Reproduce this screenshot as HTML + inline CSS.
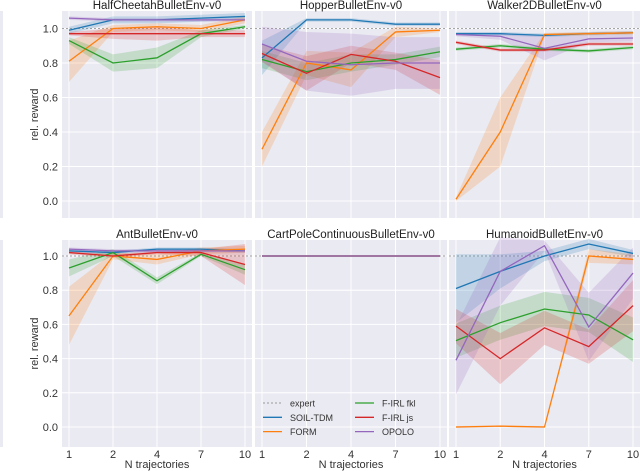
<!DOCTYPE html>
<html><head><meta charset="utf-8"><style>
body{margin:0;background:#fff;}
svg{display:block;font-family:"Liberation Sans",sans-serif;}
</style></head><body>
<svg id="c" width="640" height="471" viewBox="0 0 640 471"></svg>
<script>
const categories=["1","2","4","7","10"];
const yTicks=[0.0,0.2,0.4,0.6,0.8,1.0];
const seriesNames=["SOIL-TDM","FORM","F-IRL fkl","F-IRL js","OPOLO"];
const colors=["#1f77b4","#ff7f0e","#2ca02c","#d62728","#9467bd"];
const envNames=["HalfCheetahBulletEnv-v0","HopperBulletEnv-v0","Walker2DBulletEnv-v0","AntBulletEnv-v0","CartPoleContinuousBulletEnv-v0","HumanoidBulletEnv-v0"];
// mean values per env: [blue, orange, green, red, purple]
const halfCheetahMeans=[[0.99,1.05,1.05,1.06,1.07],[0.81,1.0,1.01,1.0,1.05],[0.93,0.80,0.83,0.97,1.01],[0.97,0.97,0.97,0.97,0.97],[1.06,1.05,1.05,1.05,1.05]];
const halfCheetahErr=[[0.02,0.02,0.02,0.02,0.02],[0.12,0.02,0.02,0.02,0.02],[0.02,0.05,0.06,0.02,0.01],[0.01,0.03,0.04,0.02,0.02],[0.01,0.01,0.01,0.01,0.01]];
const hopperMeans=[[0.83,1.05,1.05,1.025,1.025],[0.30,0.80,0.76,0.98,0.99],[0.82,0.75,0.80,0.82,0.865],[0.855,0.74,0.85,0.81,0.715],[0.91,0.81,0.79,0.80,0.80]];
const hopperErr=[[0.1,0.01,0.01,0.01,0.01],[0.1,0.07,0.1,0.03,0.01],[0.05,0.05,0.05,0.03,0.03],[0.05,0.1,0.05,0.05,0.1],[0.1,0.17,0.18,0.15,0.15]];
const walkerMeans=[[0.97,0.97,0.96,0.97,0.975],[0.01,0.40,0.965,0.97,0.975],[0.88,0.90,0.88,0.87,0.89],[0.92,0.875,0.875,0.91,0.91],[0.965,0.955,0.885,0.94,0.945]];
const walkerErr=[[0.01,0.01,0.01,0.01,0.01],[0.01,0.2,0.01,0.01,0.01],[0.01,0.01,0.01,0.01,0.01],[0.01,0.01,0.01,0.01,0.01],[0.01,0.02,0.07,0.02,0.02]];
const antMeans=[[1.03,1.02,1.04,1.04,1.03],[0.65,1.0,0.98,1.03,1.04],[0.93,1.02,0.855,1.01,0.92],[1.02,1.0,1.02,1.02,0.95],[1.04,1.03,1.03,1.03,1.03]];
const antErr=[[0.01,0.01,0.01,0.01,0.01],[0.17,0.02,0.03,0.02,0.02],[0.05,0.02,0.02,0.01,0.03],[0.01,0.01,0.01,0.02,0.12],[0.01,0.01,0.01,0.01,0.01]];
const cartMeans=[[1,1,1,1,1],[1,1,1,1,1],[1,1,1,1,1],[1,1,1,1,1],[1,1,1,1,1]];
const cartErr=[[0,0,0,0,0],[0,0,0,0,0],[0,0,0,0,0],[0,0,0,0,0],[0,0,0,0,0]];
const humanoidMeans=[[0.81,0.91,1.0,1.07,1.015],[0.0,0.005,0.0,1.0,0.98],[0.505,0.61,0.69,0.655,0.51],[0.59,0.40,0.58,0.47,0.71],[0.39,0.91,1.06,0.585,0.90]];
const humanoidErr=[[0.2,0.1,0.03,0.03,0.02],[0.005,0.005,0.005,0.04,0.03],[0.1,0.1,0.1,0.1,0.13],[0.1,0.15,0.1,0.1,0.15],[0.2,0.2,0.03,0.2,0.15]];
const allMeans=[halfCheetahMeans,hopperMeans,walkerMeans,antMeans,cartMeans,humanoidMeans];
const allErr=[halfCheetahErr,hopperErr,walkerErr,antErr,cartErr,humanoidErr];

const NS="http://www.w3.org/2000/svg";
const svg=document.getElementById('c');
function mk(tag,attrs,parent){const e=document.createElementNS(NS,tag);for(const k in attrs)e.setAttribute(k,attrs[k]);(parent||svg).appendChild(e);return e;}
const strip=mk('rect',{x:0,y:11,width:3,height:207,fill:'#eaeaf2'});


const strip2=mk('rect',{x:0,y:240,width:3,height:207,fill:'#eaeaf2'});



const colX=[62,255,449], colW=[190,192,191];
const rows=[{top:11,bot:218,y1:28.5,y0:201},{top:240,bot:447,y1:256,y0:427}];
for(let p=0;p<6;p++){
  const r=rows[Math.floor(p/3)], c=p%3;
  const x0=colX[c], w=colW[c];
  const g=mk('g',{});
  
  
  mk('rect',{x:x0,y:r.top,width:w,height:r.bot-r.top,fill:'#eaeaf2'},g);
  const xs=i=>x0+7+i*(w-14)/(categories.length-1);
  const ys=v=>r.y0+(r.y1-r.y0)*v;
  yTicks.forEach(t=>{mk('line',{x1:x0,x2:x0+w,y1:ys(t),y2:ys(t),stroke:'#fff','stroke-width':1},g);});
  categories.forEach((t,i)=>{mk('line',{x1:xs(i),x2:xs(i),y1:r.top,y2:r.bot,stroke:'#fff','stroke-width':1},g);});
  const ex=mk('line',{x1:x0,x2:x0+w,y1:ys(1),y2:ys(1),stroke:'#888','stroke-width':0.8,'stroke-dasharray':'2,2'},g);
  
  
  const M=allMeans[p],E=allErr[p];
  M.forEach((s,k)=>{
    let up=s.map((v,i)=>xs(i)+','+ys(v+E[k][i])), dn=s.map((v,i)=>xs(i)+','+ys(v-E[k][i])).reverse();
    const band=mk('polygon',{points:up.concat(dn).join(' '),fill:colors[k],'fill-opacity':0.2,stroke:'none'},g);
    
    
  });
  M.forEach((s,k)=>{
    const ln=mk('polyline',{points:s.map((v,i)=>xs(i)+','+ys(v)).join(' '),fill:'none',stroke:colors[k],'stroke-width':1.3},g);
    
    
  });
  const tt=mk('text',{x:x0+w/2,y:r.top-2,'text-anchor':'middle','font-size':11.5,fill:'#222'},g);
  tt.textContent=envNames[p];
  
  
  if(c===0){
    yTicks.forEach(t=>{const tx=mk('text',{x:x0-4,y:ys(t)+4,'text-anchor':'end','font-size':11,fill:'#333'},g);tx.textContent=t.toFixed(1);
      
      });
    const yl=mk('text',{x:0,y:0,transform:`translate(38,${(r.top+r.bot)/2}) rotate(-90)`,'text-anchor':'middle','font-size':11,fill:'#333'},g);
    yl.textContent='rel. reward';
    
    
  }
  if(p>=3){
    categories.forEach((t,i)=>{const tx=mk('text',{x:xs(i),y:r.bot+11,'text-anchor':'middle','font-size':11,fill:'#333'},g);tx.textContent=t;
      
      });
    const xl=mk('text',{x:x0+w/2,y:r.bot+21,'text-anchor':'middle','font-size':11,fill:'#333'},g);
    xl.textContent='N trajectories';
    
    
  }
}
const lg=mk('g',{});


const legNames=["expert"].concat(seriesNames), legColors=["#999"].concat(colors);
legNames.forEach((n,i)=>{
  const col=Math.floor(i/3), row=i%3;
  const lx=col?355:263, ly=403+row*14.3;
  const e=mk('g',{},lg);
  
  
  mk('line',{x1:lx,x2:lx+19,y1:ly,y2:ly,stroke:legColors[i],'stroke-width':i?1.3:1,'stroke-dasharray':i?'none':'2,2'},e);
  const t=mk('text',{x:lx+27,y:ly+3.5,'font-size':9,fill:'#333'},e);t.textContent=n;
});
</script>
</body></html>
